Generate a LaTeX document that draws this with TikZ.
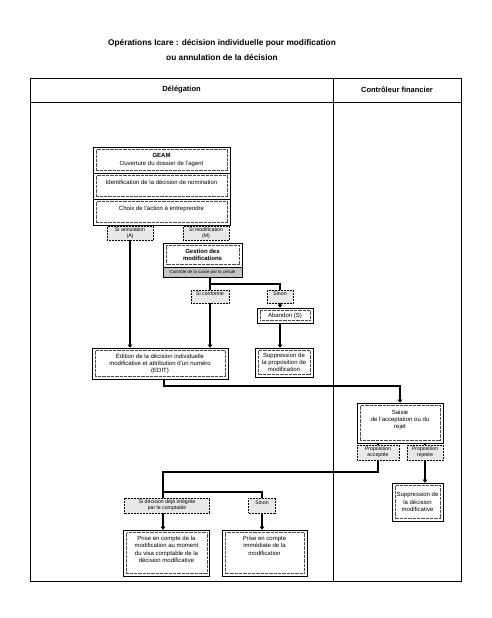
\documentclass[tikz,border=0pt]{standalone}
\usepackage{fontspec}
\setmainfont{Liberation Sans}
\usetikzlibrary{arrows.meta}

\tikzset{
  boxtxt/.style={font=\fontsize{6}{7.2}\selectfont},
  lbltxt/.style={font=\fontsize{5.2}{6.2}\selectfont},
  box/.style={draw, line width=0.6pt, fill=white, align=center, inner sep=1pt, boxtxt,
    path picture={\draw[densely dotted, line width=0.3pt, black!70]
      ([shift={(3pt,-2.5pt)}]path picture bounding box.north west) rectangle
      ([shift={(-2.5pt,2.5pt)}]path picture bounding box.south east);}},
  lbl/.style={draw, densely dotted, line width=0.5pt, fill=gray!18, align=center, inner sep=0.5pt, lbltxt},
  thickline/.style={line width=2.2pt},
  midline/.style={line width=1.2pt},
  tip/.style={-{Triangle[length=3pt,width=4.5pt]}},
  head/.style={font=\bfseries\fontsize{7.5}{9}\selectfont}
}

\begin{document}
\begin{tikzpicture}[x=1pt,y=-1pt]
  \useasboundingbox (0,0) rectangle (492,618);

  % titre
  \node[head,font=\bfseries\fontsize{8.3}{10}\selectfont] (titre1) at (222,43) {Opérations Icare : décision individuelle pour modification};
  \node[head,font=\bfseries\fontsize{8.3}{10}\selectfont] (titre2) at (222,57) {ou annulation de la décision};

  % cadre
  \draw[line width=0.6pt] (30,78) rectangle (461,581);
  \draw[line width=0.6pt] (30,102) -- (461,102);
  \draw[line width=0.6pt] (333,78) -- (333,581);
  \node[head] (deleg) at (181.5,90) {Délégation};
  \node[head] (cf) at (397,90) {Contrôleur financier};

  % Délégation
  \node[box, minimum width=137, minimum height=26] (geam) at (161.5,160) {\textbf{GEAM}\\Ouverture du dossier de l'agent};
  \node[box, minimum width=137, minimum height=26] (ident) at (161.5,186) {Identification de la décision de nomination\\\mbox{}};
  \node[box, minimum width=137, minimum height=26] (choix) at (161.5,212) {Choix de l'action à entreprendre\\\mbox{}};

  \node[lbl, minimum width=46, minimum height=14] (annul) at (130,233) {Si annulation\\(A)};
  \node[lbl, minimum width=46, minimum height=14] (modif) at (206,233) {Si modification\\(M)};

  \node[box, minimum width=79, minimum height=24] (gest) at (202.5,255) {\textbf{Gestion des}\\\textbf{modifications}};
  \node[draw, line width=0.6pt, fill=gray!45, minimum width=79, minimum height=10, inner sep=0pt, font=\fontsize{4.4}{5}\selectfont] (gestc) at (202.5,272) {Contrôle de la saisie par la cellule};

  \coordinate (j1) at (210,284);
  \node[lbl, minimum width=38, minimum height=13] (siconf) at (210,296.5) {Si conforme\\\mbox{}};
  \node[lbl, minimum width=26, minimum height=13] (sinon) at (280,296.5) {Sinon\\\mbox{}};
  \node[box, minimum width=56, minimum height=15] (aband) at (285,315.5) {Abandon (S)};

  \node[box, minimum width=136, minimum height=31] (edit) at (160,363.5) {Édition de la décision individuelle\\modificative et attribution d'un numéro\\(EDIT)};
  \node[box, minimum width=58, minimum height=29] (suppr) at (284,362.5) {Suppression de\\la proposition de\\modification};

  % Contrôleur financier
  \coordinate (j2) at (164,386);
  \node[box, minimum width=86, minimum height=40] (saisie) at (400,423) {Saisie\\de l'acceptation ou du\\rejet\\\mbox{}};
  \node[lbl, minimum width=42, minimum height=15] (acc) at (378,452.5) {Proposition\\acceptée};
  \node[lbl, minimum width=36, minimum height=15] (rej) at (425,452.5) {Proposition\\rejetée};
  \node[box, minimum width=51, minimum height=38] (suppr2) at (417.5,502) {Suppression de\\la décision\\modificative};

  % retour délégation
  \coordinate (j3) at (163,472);
  \coordinate (j4) at (163,492);
  \node[lbl, minimum width=85, minimum height=15] (sidec) at (167,505.5) {Si décision déjà intégrée\\par le comptable};
  \node[lbl, minimum width=27, minimum height=15] (sinon2) at (262,505.5) {Sinon\\\mbox{}};
  \node[box, minimum width=86, minimum height=46] (prisea) at (166.5,553) {Prise en compte de la\\modification au moment\\du visa comptable de la\\décision modificative\\\mbox{}};
  \node[box, minimum width=85, minimum height=46] (priseb) at (264.5,553) {Prise en compte\\immédiate de la\\modification\\\mbox{}\\\mbox{}};

  % liaisons
  \draw[thickline,tip] (annul.south) -- (annul.south |- edit.north);
  \draw[thickline] (gestc.south -| j1) -- (j1);
  \draw[midline] (j1) -| (sinon.north);
  \draw[thickline] (j1) -- (siconf.north);
  \draw[thickline,tip] (siconf.south) -- (siconf.south |- edit.north);
  \draw[thickline,tip] (sinon.south) -- (sinon.south |- aband.north);
  \draw[thickline,tip] (aband.south -| sinon) -- (sinon |- suppr.north);

  \draw[thickline,tip] (edit.south -| j2) -- (j2) -| (saisie.north);
  \draw[thickline] (saisie.south -| acc) -- (acc.north);
  \draw[thickline] (saisie.south -| rej) -- (rej.north);
  \draw[thickline,tip] (rej.south) -- (rej.south |- suppr2.north);

  \draw[thickline] (acc.south) |- (j3) -- (j4);
  \draw[midline] (j4) -| (sinon2.north);
  \draw[thickline] (j4) -- (sidec.north -| j4);
  \draw[thickline,tip] (sidec.south -| j4) -- (j4 |- prisea.north);
  \draw[thickline,tip] (sinon2.south) -- (sinon2.south |- priseb.north);
\end{tikzpicture}
\end{document}
